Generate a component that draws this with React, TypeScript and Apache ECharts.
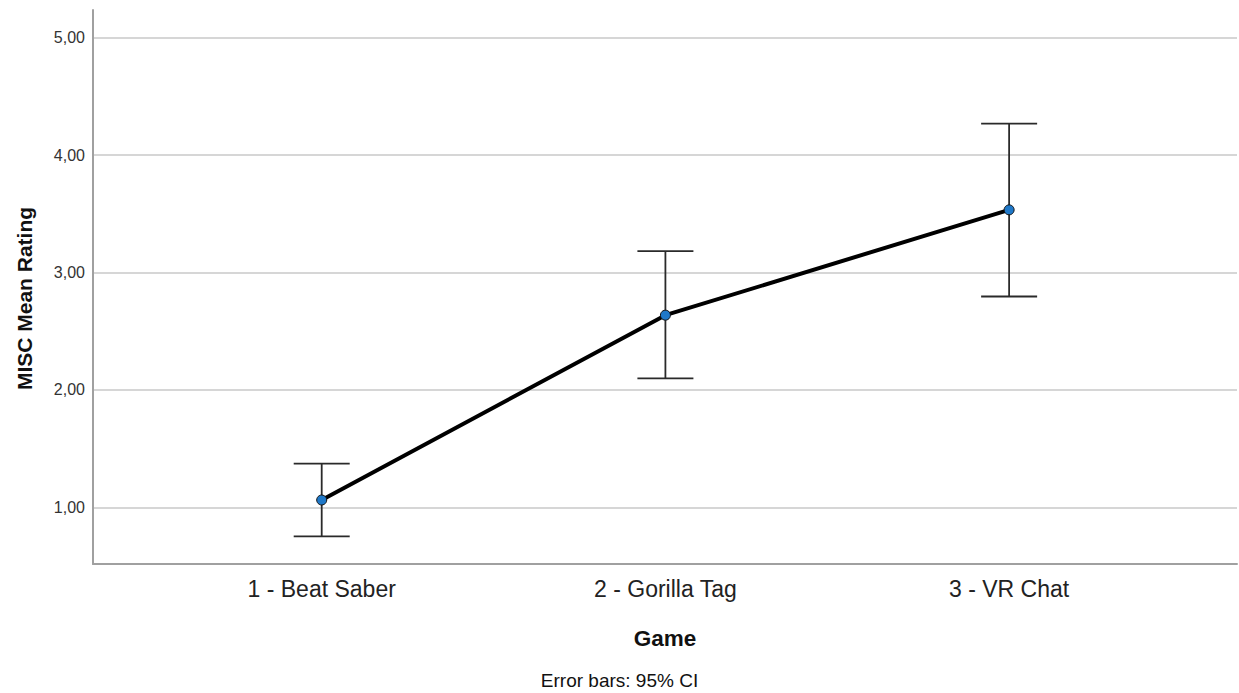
import React, { useEffect, useRef } from "react";
import * as echarts from "echarts";

const categories = ["1 - Beat Saber", "2 - Gorilla Tag", "3 - VR Chat"];
const positions = [1, 2, 3];
const means = [1.063, 2.637, 3.534];
const ciLower = [0.753, 2.098, 2.796];
const ciUpper = [1.372, 3.182, 4.268];
const yTicks = [1, 2, 3, 4, 5];

export default function App() {
  const ref = useRef<HTMLDivElement>(null);
  useEffect(() => {
    if (!ref.current) return;
    const chart = echarts.init(ref.current, null, { renderer: "svg" });
    const font = "'Liberation Sans', Arial, sans-serif";
    chart.setOption({
      animation: false,
      backgroundColor: "#ffffff",
      grid: { left: 93, top: 10, right: 2, bottom: 129, containLabel: false },
      xAxis: {
        type: "value",
        min: 0.3346,
        max: 3.663,
        name: "Game",
        nameLocation: "middle",
        nameGap: 63,
        nameTextStyle: { fontFamily: font, fontSize: 22.5, fontWeight: "bold", color: "#111" },
        axisLine: { show: true, lineStyle: { color: "#a0a0a0", width: 2 } },
        axisTick: { show: false, customValues: positions },
        splitLine: { show: false },
        axisLabel: {
          customValues: positions,
          formatter: (v: number) => categories[positions.indexOf(v)] ?? "",
          fontFamily: font,
          fontSize: 23,
          color: "#222",
          margin: 13,
        },
      },
      yAxis: {
        type: "value",
        min: 0.518,
        max: 5.236,
        axisLine: { show: true, lineStyle: { color: "#a0a0a0", width: 2 } },
        axisTick: { show: false, customValues: yTicks },
        splitLine: { show: true, lineStyle: { color: "#c8c8c8", width: 1.5 } },
        axisLabel: {
          customValues: yTicks,
          formatter: (v: number) => v.toFixed(2).replace(".", ","),
          fontFamily: font,
          fontSize: 16,
          color: "#333",
          margin: 8,
        },
      },
      graphic: [
        {
          type: "text",
          x: 24,
          y: 298.5,
          rotation: Math.PI / 2,
          style: {
            text: "MISC Mean Rating",
            fontFamily: font,
            fontSize: 21,
            fontWeight: "bold",
            fill: "#111",
            align: "center",
            verticalAlign: "middle",
          },
        },
        {
          type: "text",
          left: "center",
          top: 671,
          style: { text: "Error bars: 95% CI", fontFamily: font, fontSize: 19, fill: "#111" },
        },
      ],
      series: [
        {
          type: "custom",
          z: 2,
          data: positions.map((p, i) => [p, ciLower[i], ciUpper[i]]),
          renderItem: (params: any, api: any) => {
            const x = api.value(0);
            const lo = api.coord([x, api.value(1)]);
            const hi = api.coord([x, api.value(2)]);
            const half = 28;
            const style = { stroke: "#2a2a2a", lineWidth: 1.8 };
            return {
              type: "group",
              children: [
                { type: "line", shape: { x1: lo[0], y1: lo[1], x2: hi[0], y2: hi[1] }, style },
                { type: "line", shape: { x1: hi[0] - half, y1: hi[1], x2: hi[0] + half, y2: hi[1] }, style },
                { type: "line", shape: { x1: lo[0] - half, y1: lo[1], x2: lo[0] + half, y2: lo[1] }, style },
              ],
            };
          },
        },
        {
          type: "line",
          z: 3,
          data: positions.map((p, i) => [p, means[i]]),
          lineStyle: { color: "#000", width: 4 },
          symbol: "circle",
          symbolSize: 10,
          itemStyle: { color: "#1f78c8", borderColor: "#111", borderWidth: 1 },
        },
      ],
    });
    return () => chart.dispose();
  }, []);
  return (
    <div
      ref={ref}
      style={{ position: "fixed", left: 0, top: 0, width: 1239, height: 693, background: "#fff" }}
    />
  );
}
